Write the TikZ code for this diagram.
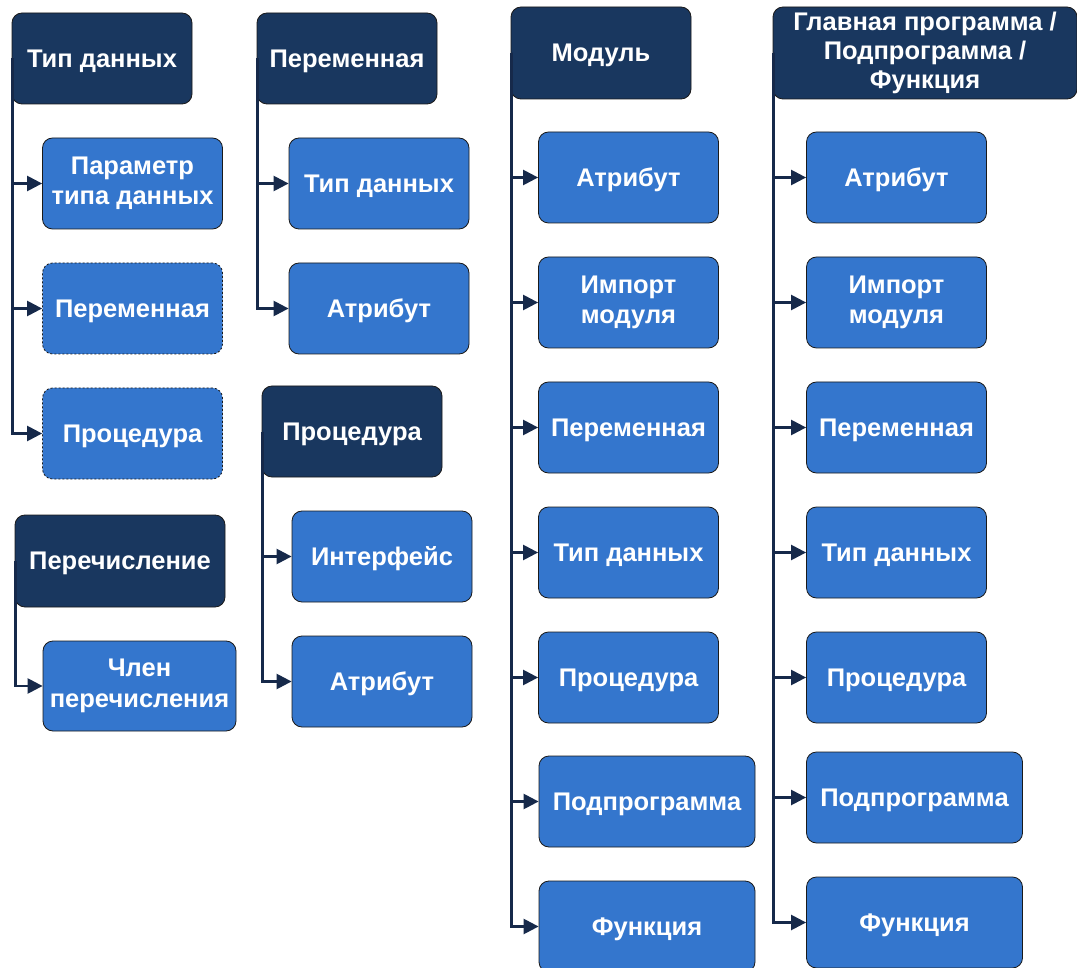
\documentclass[tikz,border=0pt]{standalone}
\usepackage{fontspec}
\setmainfont{Liberation Sans}
\usetikzlibrary{arrows.meta}
\definecolor{hdrblue}{HTML}{19375F}
\definecolor{itemblue}{HTML}{3476CD}
\definecolor{edgecol}{HTML}{1A1A1A}
\definecolor{linkcol}{HTML}{16294A}
\tikzset{
  box/.style={rectangle, rounded corners=10pt, draw=edgecol, line width=0.8pt,
    text=white, align=center, inner sep=0pt,
    font=\fontsize{25.5}{30.5}\selectfont\bfseries,
    % pad the text block to full ascender / descender height
    execute at begin node={\rule{0pt}{0.905em}},
    execute at end node={\rule[-0.212em]{0pt}{0.212em}}},
  hdr/.style={box, fill=hdrblue},
  item/.style={box, fill=itemblue},
  optional/.style={dash pattern=on 2pt off 2pt},
  wh/.style 2 args={minimum width=#1pt, minimum height=#2pt},
  link/.style={draw=linkcol, line width=2.4pt,
    -{Triangle[length=15pt,width=15pt]}},
}
\begin{document}
\begin{tikzpicture}[x=1pt,y=-1pt]
\fill[white] (0,0) rectangle (1077,968);
\useasboundingbox (0,0) rectangle (1077,968);

% --- data type ---
\node[hdr, wh={180}{91}] (t1) at (102,58.5) {Тип данных};
\node[item, wh={180}{91}] (t1a) at (132.5,183.5) {Параметр\\типа данных};
\node[item, optional, wh={180}{91}] (t1b) at (132.5,308.5) {Переменная};
\node[item, optional, wh={180}{91}] (t1c) at (132.5,433.5) {Процедура};

% --- enumeration ---
\node[hdr, wh={210}{92}] (t2) at (120,561) {Перечисление};
\node[item, wh={193}{90}] (t2a) at (139.5,686) {Член\\перечисления};

% --- variable ---
\node[hdr, wh={180}{91}] (t3) at (347,58.5) {Переменная};
\node[item, wh={180}{91}] (t3a) at (379,183.5) {Тип данных};
\node[item, wh={180}{91}] (t3b) at (379,308.5) {Атрибут};

% --- procedure ---
\node[hdr, wh={180}{91}] (t4) at (352,431.5) {Процедура};
\node[item, wh={180}{91}] (t4a) at (382,556.5) {Интерфейс};
\node[item, wh={180}{91}] (t4b) at (382,681.5) {Атрибут};

% --- module ---
\node[hdr, wh={180}{92}] (t5) at (601,53) {Модуль};
\node[item, wh={180}{91}] (t5a) at (628.5,177.5) {Атрибут};
\node[item, wh={180}{91}] (t5b) at (628.5,302.5) {Импорт\\модуля};
\node[item, wh={180}{91}] (t5c) at (628.5,427.5) {Переменная};
\node[item, wh={180}{91}] (t5d) at (628.5,552.5) {Тип данных};
\node[item, wh={180}{91}] (t5e) at (628.5,677.5) {Процедура};
\node[item, wh={216}{91}] (t5f) at (647,801.5) {Подпрограмма};
\node[item, wh={216}{91}] (t5g) at (647,926.5) {Функция};

% --- main program / subprogram / function ---
\node[hdr, wh={304}{92}, font=\fontsize{25.5}{29}\selectfont\bfseries,
      execute at begin node={\rule{0pt}{1.1em}}]
  (t6) at (925,53) {Главная программа /\\Подпрограмма /\\Функция};
\node[item, wh={180}{91}] (t6a) at (896.5,177.5) {Атрибут};
\node[item, wh={180}{91}] (t6b) at (896.5,302.5) {Импорт\\модуля};
\node[item, wh={180}{91}] (t6c) at (896.5,427.5) {Переменная};
\node[item, wh={180}{91}] (t6d) at (896.5,552.5) {Тип данных};
\node[item, wh={180}{91}] (t6e) at (896.5,677.5) {Процедура};
\node[item, wh={216}{91}] (t6f) at (914.5,797.5) {Подпрограмма};
\node[item, wh={216}{91}] (t6g) at (914.5,922.5) {Функция};

% --- connectors: from each parent's left edge down to its children ---
\foreach \c in {t1a,t1b,t1c} \draw[link] ([xshift=1pt]t1.west) |- (\c.west);
\draw[link] ([xshift=1pt]t2.west) |- (t2a.west);
\foreach \c in {t3a,t3b} \draw[link] ([xshift=1pt]t3.west) |- (\c.west);
\foreach \c in {t4a,t4b} \draw[link] ([xshift=1pt]t4.west) |- (\c.west);
\foreach \c in {t5a,t5b,t5c,t5d,t5e,t5f,t5g} \draw[link] ([xshift=1pt]t5.west) |- (\c.west);
\foreach \c in {t6a,t6b,t6c,t6d,t6e,t6f,t6g} \draw[link] ([xshift=1pt]t6.west) |- (\c.west);
\end{tikzpicture}
\end{document}
